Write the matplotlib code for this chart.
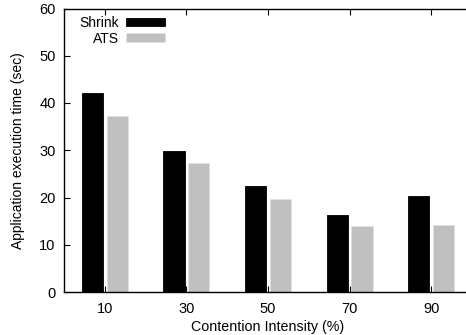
import matplotlib
matplotlib.use("Agg")
import matplotlib.pyplot as plt
import numpy as np

plt.rcParams['font.family'] = ['Liberation Sans', 'DejaVu Sans']

categories = ["10", "30", "50", "70", "90"]
shrink = [42.2, 29.8, 22.4, 16.2, 20.3]
ats = [37.3, 27.3, 19.7, 14.0, 14.2]

fig = plt.figure(figsize=(4.66, 3.35), dpi=100)
W, H = 466, 335
left, right, top, bottom = 64, 472, 8.5, 292
ax = fig.add_axes([left / W, 1 - bottom / H, (right - left) / W, (bottom - top) / H])

x = np.arange(len(categories))
w = 0.26
off = 0.153
ax.bar(x - off, shrink, w, color='black', edgecolor='black', linewidth=0.6, label='Shrink')
ax.bar(x + off, ats, w, color='#c0c0c0', edgecolor='#e0e0e0', linewidth=0.6, linestyle='--', label='ATS')

ax.set_xlim(-0.5, len(categories) - 0.5)
ax.set_ylim(0, 60)
ax.set_xticks(x)
ax.set_xticklabels(categories)
ax.set_yticks(range(0, 61, 10))
ax.tick_params(direction='in', length=4, width=0.8, top=True, right=True, labelsize=10.5)
ax.tick_params(axis='y', pad=6)
ax.tick_params(axis='x', pad=7)
for s in ax.spines.values():
    s.set_linewidth(1.0)
ax.set_xlabel("Contention Intensity (%)", fontsize=10.3, labelpad=3)
ax.set_ylabel("Application execution time (sec)", fontsize=10, labelpad=10)

leg = ax.legend(loc='upper left', markerfirst=False, frameon=False, fontsize=10,
                handlelength=2.8, handleheight=0.55, labelspacing=0.1,
                bbox_to_anchor=(0.02, 1.0), borderaxespad=0.15, handletextpad=0.45)

fig.savefig("out.png", dpi=100)
